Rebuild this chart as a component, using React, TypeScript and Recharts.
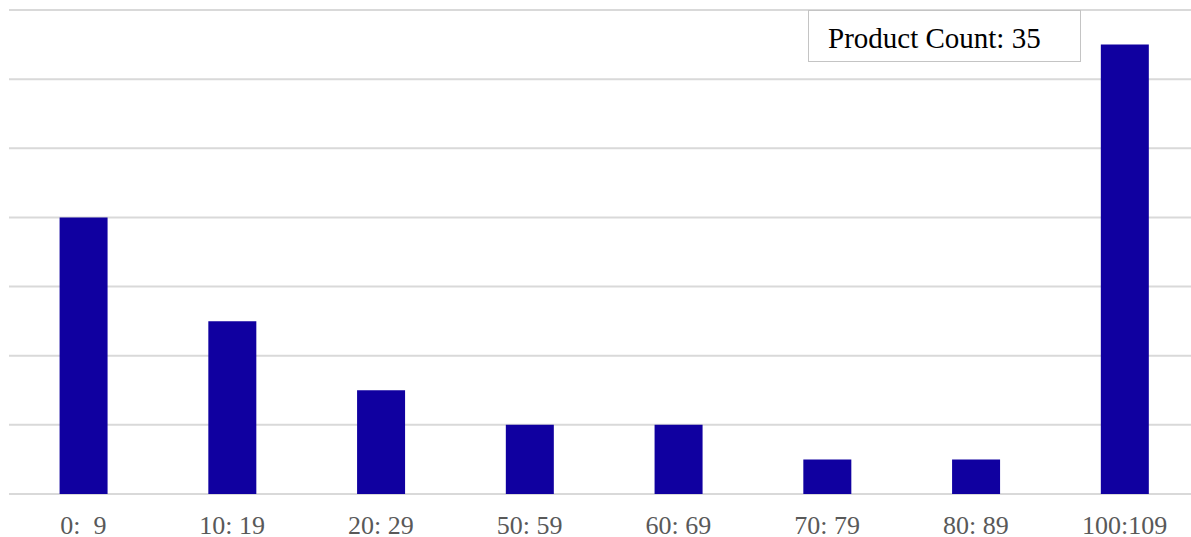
import { BarChart, Bar, XAxis, YAxis, CartesianGrid, Legend } from 'recharts';

const priceRanges = ['0:  9', '10: 19', '20: 29', '50: 59', '60: 69', '70: 79', '80: 89', '100:109'];
const productCounts = [8, 5, 3, 2, 2, 1, 1, 13];
const countTicks = [0, 2, 4, 6, 8, 10, 12, 14];

const data = priceRanges.map((range, i) => ({ range, count: productCounts[i] }));
const totalProducts = productCounts.reduce((sum, n) => sum + n, 0);

const serif = '"Liberation Serif", "Times New Roman", serif';

// keeps the double space in "0:  9"
function RangeTick({ x, y, payload }: any) {
  return (
    <text
      x={x}
      y={y}
      dy="0.71em"
      textAnchor="middle"
      xmlSpace="preserve"
      fontSize={26}
      fill="#595959"
      fontFamily={serif}
    >
      {payload.value}
    </text>
  );
}

function ProductCountBox() {
  return (
    <div
      style={{
        boxSizing: 'border-box',
        width: 273,
        height: 52,
        border: '1.5px solid #c4c4c4',
        background: '#fff',
        fontFamily: serif,
        fontSize: 29,
        color: '#000',
        lineHeight: '54px',
        paddingLeft: 19,
        whiteSpace: 'nowrap',
      }}
    >
      Product Count: {totalProducts}
    </div>
  );
}

export default function App() {
  return (
    <div
      style={{
        position: 'absolute',
        left: 0,
        top: 0,
        width: 1191,
        height: 537,
        overflow: 'hidden',
        background: '#fff',
      }}
    >
      <BarChart
        width={1200}
        height={537}
        data={data}
        margin={{ top: 10, right: 1, left: 9, bottom: 0 }}
        barCategoryGap="34%"
      >
        <CartesianGrid vertical={false} stroke="#d9d9d9" strokeWidth={2} />
        <XAxis
          dataKey="range"
          axisLine={false}
          tickLine={false}
          tickSize={0}
          tickMargin={22}
          height={43}
          interval={0}
          tick={RangeTick}
        />
        <YAxis hide domain={[0, 14]} ticks={countTicks} />
        <Legend
          layout="horizontal"
          verticalAlign="middle"
          align="center"
          wrapperStyle={{ top: 10, left: 808, width: 'auto' }}
          content={() => <ProductCountBox />}
        />
        <Bar dataKey="count" fill="#1000a0" isAnimationActive={false} />
      </BarChart>
    </div>
  );
}
